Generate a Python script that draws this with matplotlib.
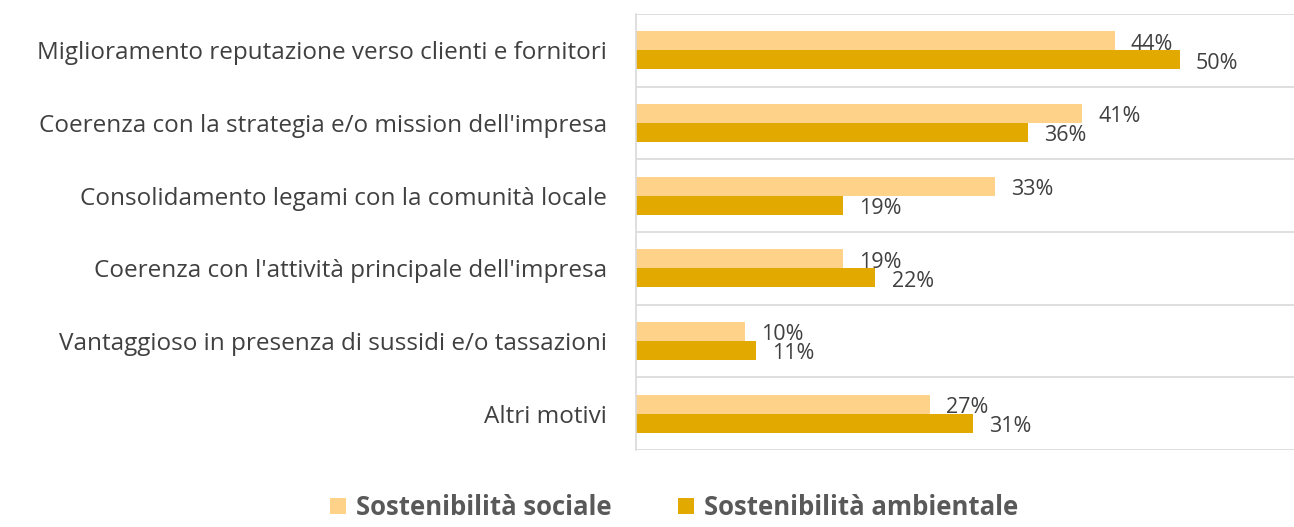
import matplotlib.pyplot as plt
import numpy as np

# Data
categorie = ["Miglioramento reputazione verso clienti e fornitori",
             "Coerenza con la strategia e/o mission dell'impresa",
             "Consolidamento legami con la comunità locale",
             "Coerenza con l'attività principale dell'impresa",
             "Vantaggioso in presenza di sussidi e/o tassazioni",
             "Altri motivi"]
sociale = [44, 41, 33, 19, 10, 27]
ambientale = [50, 36, 19, 22, 11, 31]
serie = ["Sostenibilità sociale", "Sostenibilità ambientale"]

col_soc = "#FFD28A"
col_amb = "#E2AA00"
testo = "#404040"

plt.rcParams['font.family'] = ['Open Sans', 'DejaVu Sans']

fig = plt.figure(figsize=(12.94, 5.27), dpi=100)
ax = fig.add_axes([0.4915, 0.146, 0.5085, 0.8274])

y = np.arange(len(categorie))
h = 0.26
b1 = ax.barh(y - h / 2, sociale, height=h, color=col_soc, label=serie[0])
b2 = ax.barh(y + h / 2, ambientale, height=h, color=col_amb, label=serie[1])

# etichette dei valori
for bars, vals in [(b1, sociale), (b2, ambientale)]:
    for r, v in zip(bars, vals):
        ax.text(r.get_width() + 1.5, r.get_y() + r.get_height() / 2 + 0.045, f"{v}%",
                va="center", ha="left", fontsize=15.5, color=testo)

ax.set_xlim(0, 60.5)
ax.set_ylim(len(categorie) - 0.5, -0.5)
ax.set_yticks(y)
ax.set_yticklabels(categorie, fontsize=17.5, color=testo)
ax.set_yticks(np.arange(-0.5, len(categorie)), minor=True)
ax.tick_params(axis="y", which="both", length=0, pad=21)
ax.set_xticks([])
ax.grid(True, which="minor", axis="y", color="#D9D9D9", lw=1.2)
for s in ["top", "right", "bottom"]:
    ax.spines[s].set_visible(False)
ax.spines["left"].set_color("#D9D9D9")
ax.spines["left"].set_linewidth(1.2)

leg = fig.legend(handles=[b1, b2], loc="center", bbox_to_anchor=(0.521, 0.037), ncol=2,
                 frameon=False, fontsize=18.5, handlelength=0.6, handleheight=0.6,
                 handletextpad=0.4, columnspacing=2.6)
for t in leg.get_texts():
    t.set_color("#595959")
    t.set_fontweight("bold")

fig.savefig("out.png", dpi=100)
